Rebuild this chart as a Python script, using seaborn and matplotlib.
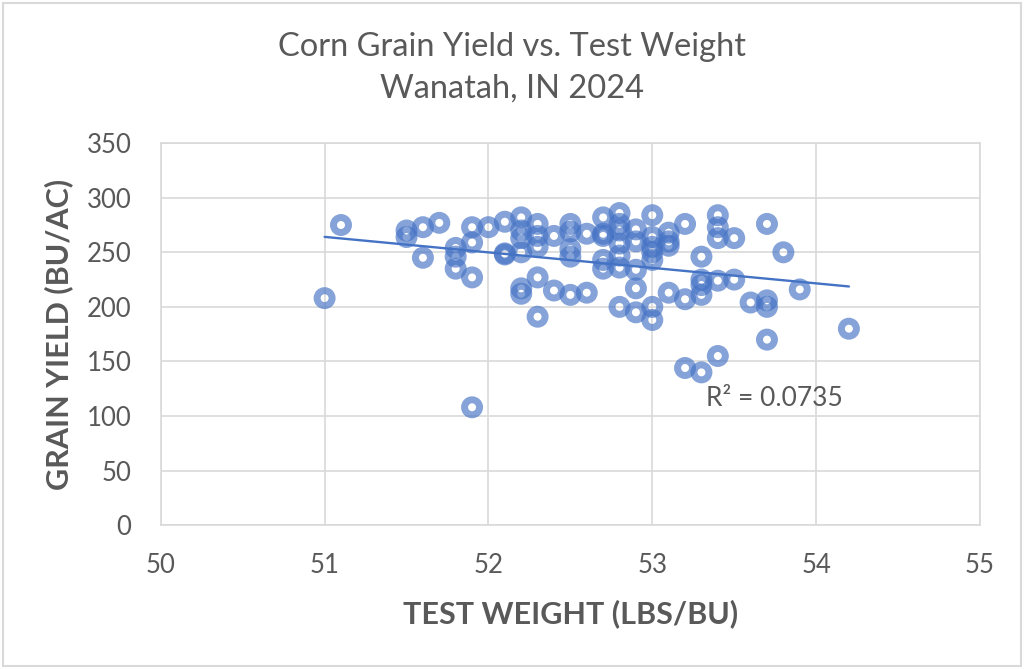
import numpy as np
import pandas as pd
import matplotlib
matplotlib.use("Agg")
import matplotlib.pyplot as plt
from matplotlib.patches import Rectangle
import seaborn as sns

# test weight (lbs/bu) and grain yield (bu/ac)
test_weight = [
    51.0, 51.1, 51.5, 51.5, 51.6, 51.6, 51.7, 51.8, 51.8, 51.8,
    51.9, 51.9, 51.9, 51.9, 52.0, 52.1, 52.1, 52.1, 52.2, 52.2,
    52.2, 52.2, 52.2, 52.2, 52.3, 52.3, 52.3, 52.3, 52.3, 52.4,
    52.4, 52.5, 52.5, 52.5, 52.5, 52.5, 52.6, 52.6, 52.7, 52.7,
    52.7, 52.7, 52.7, 52.8, 52.8, 52.8, 52.8, 52.8, 52.8, 52.8,
    52.9, 52.9, 52.9, 52.9, 52.9, 53.0, 53.0, 53.0, 53.0, 53.0,
    53.0, 53.0, 53.1, 53.1, 53.1, 53.1, 53.2, 53.2, 53.2, 53.3,
    53.3, 53.3, 53.3, 53.3, 53.4, 53.4, 53.4, 53.4, 53.4, 53.5,
    53.5, 53.6, 53.7, 53.7, 53.7, 53.7, 53.8, 53.9, 54.2,
]
grain_yield = [
    208, 275, 270, 264, 273, 245, 277, 254, 246, 235,
    273, 259, 227, 108, 273, 278, 249, 248, 282, 270,
    263, 250, 217, 212, 276, 265, 255, 227, 191, 265,
    215, 276, 269, 253, 246, 211, 267, 213, 282, 267,
    265, 243, 235, 286, 276, 270, 258, 247, 236, 200,
    271, 260, 234, 217, 195, 284, 264, 255, 250, 243,
    200, 188, 268, 260, 256, 213, 276, 207, 144, 246,
    225, 220, 211, 140, 284, 273, 263, 224, 155, 263,
    225, 204, 276, 206, 200, 170, 250, 216, 180,
]
x_ticks = [50, 51, 52, 53, 54, 55]
y_ticks = [0, 50, 100, 150, 200, 250, 300, 350]

df = pd.DataFrame({"tw": test_weight, "yield": grain_yield})

BLUE = "#4472C4"
GRAY = "#595959"
GRID = "#D9D9D9"

sns.set_theme(style="white")
plt.rcParams["font.family"] = ["Lato", "DejaVu Sans"]

fig = plt.figure(figsize=(10.24, 6.69), dpi=100)
ax = fig.add_axes([0.157, 0.215, 0.800, 0.571])

sns.scatterplot(data=df, x="tw", y="yield", ax=ax, s=117, marker="o",
                color=BLUE, facecolor="none", edgecolor=BLUE,
                linewidth=5.0, alpha=0.65, zorder=3)
sns.regplot(data=df, x="tw", y="yield", ax=ax, scatter=False, ci=None,
            line_kws={"color": BLUE, "lw": 1.7, "zorder": 4})

ax.set_xlim(50, 55)
ax.set_ylim(0, 350)
ax.set_xticks(x_ticks)
ax.set_yticks(y_ticks)
ax.grid(True, color=GRID, lw=1.2)
ax.set_axisbelow(True)
for sp in ax.spines.values():
    sp.set_color(GRID)
    sp.set_linewidth(1.2)
ax.tick_params(length=0, labelsize=18.5, labelcolor=GRAY)
ax.tick_params(axis="x", pad=20)
ax.tick_params(axis="y", pad=21)

ax.set_xlabel("TEST WEIGHT (LBS/BU)", fontsize=22, fontweight="bold",
              color=GRAY, labelpad=15)
ax.set_ylabel("GRAIN YIELD (BU/AC)", fontsize=22, fontweight="bold",
              color=GRAY, labelpad=10)

fig.text(0.5, 0.930, "Corn Grain Yield vs. Test Weight", ha="center",
         va="center", fontsize=23.5, color=GRAY)
fig.text(0.5, 0.867, "Wanatah, IN 2024", ha="center", va="center",
         fontsize=23.5, color=GRAY)

ax.text(53.33, 116, "R² = 0.0735", ha="left", va="center", fontsize=19,
        color=GRAY)

fig.patches.append(Rectangle((0.003, 0.005), 0.994, 0.99,
                             transform=fig.transFigure, fill=False,
                             edgecolor=GRID, lw=1.5))

fig.savefig("out.png", dpi=100, facecolor="white")
